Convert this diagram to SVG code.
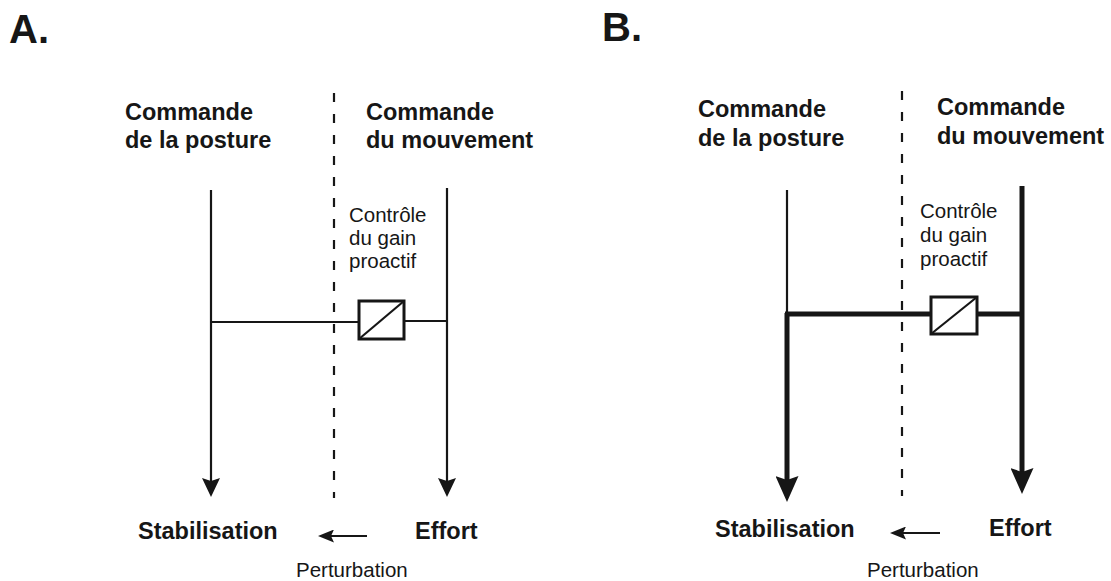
<svg xmlns="http://www.w3.org/2000/svg" width="1111" height="581" viewBox="0 0 1111 581">
<style>
  .bg { fill: #ffffff; }
  .title { font-family: "Liberation Sans", Arial, sans-serif; font-weight: bold; font-size: 40px; fill: #161616; }
  .head { font-family: "Liberation Sans", Arial, sans-serif; font-weight: bold; font-size: 23.5px; fill: #161616; }
  .small { font-family: "Liberation Sans", Arial, sans-serif; font-size: 20.5px; fill: #161616; }
  .thin { stroke: #161616; stroke-width: 2.2; fill: none; }
  .thick { stroke: #161616; stroke-width: 5; fill: none; }
  .dash { stroke: #161616; stroke-width: 2.2; fill: none; stroke-dasharray: 9 12; }
  .box { stroke: #161616; stroke-width: 3; fill: #ffffff; }
</style>
<defs>
  <!-- line ends are set back from the tips; refX places the tip beyond the line end -->
  <marker id="arrA" markerUnits="userSpaceOnUse" viewBox="0 0 19 18" markerWidth="19" markerHeight="18" refX="11" refY="9" orient="auto">
    <path d="M0,0 L19,9 L0,18 L3,9 Z" fill="#161616"/>
  </marker>
  <marker id="arrB" markerUnits="userSpaceOnUse" viewBox="0 0 26 23" markerWidth="26" markerHeight="23" refX="14" refY="11.5" orient="auto">
    <path d="M0,0 L26,11.5 L0,23 L4,11.5 Z" fill="#161616"/>
  </marker>
  <marker id="arrP" markerUnits="userSpaceOnUse" viewBox="0 0 16 13" markerWidth="16" markerHeight="13" refX="9" refY="6.5" orient="auto">
    <path d="M0,0 L16,6.5 L0,13 L3,6.5 Z" fill="#161616"/>
  </marker>
</defs>
<rect class="bg" x="0" y="0" width="1111" height="581"/>

<g id="connectors">
  <!-- Panel A -->
  <line class="dash" x1="334" y1="93" x2="334" y2="498"/>
  <line class="thin" x1="211" y1="190" x2="211" y2="489" marker-end="url(#arrA)"/>
  <line class="thin" x1="447" y1="188" x2="447" y2="489" marker-end="url(#arrA)"/>
  <line class="thin" x1="211" y1="322" x2="359" y2="322"/>
  <line class="thin" x1="404" y1="321" x2="447" y2="321"/>
  <line class="thin" x1="367" y1="536" x2="325" y2="536" marker-end="url(#arrP)"/>
  <!-- Panel B -->
  <line class="dash" x1="902" y1="91" x2="902" y2="496"/>
  <line class="thin" x1="787" y1="190" x2="787" y2="315"/>
  <line class="thick" x1="787" y1="313" x2="787" y2="490" marker-end="url(#arrB)"/>
  <line class="thick" x1="1022" y1="186" x2="1022" y2="482" marker-end="url(#arrB)"/>
  <line class="thick" x1="785" y1="314" x2="931" y2="314"/>
  <line class="thick" x1="977" y1="314" x2="1022" y2="314"/>
  <line class="thin" x1="940" y1="533" x2="897" y2="533" marker-end="url(#arrP)"/>
</g>

<g id="gainA">
  <rect class="box" x="359" y="301" width="45" height="38"/>
  <line class="thin" x1="359" y1="339" x2="404" y2="301" stroke-width="2.6"/>
</g>
<g id="gainB">
  <rect class="box" x="931" y="297" width="46" height="37"/>
  <line class="thin" x1="931" y1="334" x2="977" y2="297" stroke-width="2.6"/>
</g>

<g id="panelA-labels">
  <text class="title" x="9" y="43">A.</text>
</g>
<g id="postureA">
  <text class="head" x="125" y="120">Commande</text>
  <text class="head" x="125" y="148">de la posture</text>
</g>
<g id="mouvementA">
  <text class="head" x="366" y="120">Commande</text>
  <text class="head" x="366" y="148">du mouvement</text>
</g>
<g id="controleA">
  <text class="small" x="349" y="222">Contrôle</text>
  <text class="small" x="349" y="245">du gain</text>
  <text class="small" x="349" y="268">proactif</text>
</g>
<g id="stabilisationA"><text class="head" x="138" y="539">Stabilisation</text></g>
<g id="effortA"><text class="head" x="415" y="539">Effort</text></g>
<g id="perturbationA"><text class="small" x="296" y="577">Perturbation</text></g>

<g id="panelB-labels">
  <text class="title" x="602" y="41">B.</text>
</g>
<g id="postureB">
  <text class="head" x="698" y="117">Commande</text>
  <text class="head" x="698" y="146">de la posture</text>
</g>
<g id="mouvementB">
  <text class="head" x="937" y="115">Commande</text>
  <text class="head" x="937" y="144">du mouvement</text>
</g>
<g id="controleB">
  <text class="small" x="920" y="218">Contrôle</text>
  <text class="small" x="920" y="242">du gain</text>
  <text class="small" x="920" y="266">proactif</text>
</g>
<g id="stabilisationB"><text class="head" x="715" y="537">Stabilisation</text></g>
<g id="effortB"><text class="head" x="989" y="536">Effort</text></g>
<g id="perturbationB"><text class="small" x="867" y="577">Perturbation</text></g>
</svg>
